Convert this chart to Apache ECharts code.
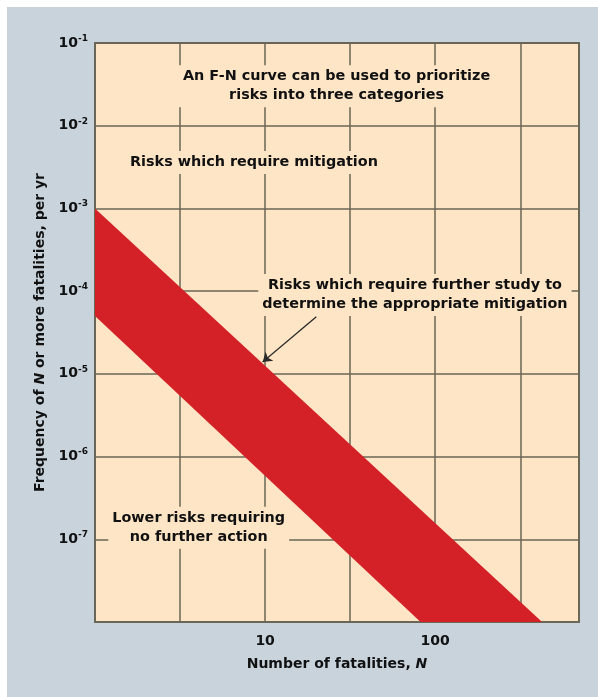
<!DOCTYPE html>
<html><head><meta charset="utf-8">
<script src="https://cdn.jsdelivr.net/npm/echarts@6/dist/echarts.min.js"></script>
<style>
html,body{margin:0;padding:0;background:#fff;}
#c{position:absolute;left:7px;top:7px;width:591px;height:690px;}
</style></head>
<body><div id="c"></div>
<script>
// Axis ranges
const xMin = 1, xMax = 700;
const yMin = 1e-8, yMax = 1e-1;
const xTickLabels = {10: '10', 100: '100'};

// Red band (F-N "further study" region): vertices
const bandN = [1, 425, 82, 1];
const bandF = [1e-3, 1e-8, 1e-8, 5e-5];

// Annotations
const noteText = [
  'An F-N curve can be used to prioritize\nrisks into three categories',
  'Risks which require mitigation',
  'Risks which require further study to\ndetermine the appropriate mitigation',
  'Lower risks requiring\nno further action'
];
const noteN = [26.3, 8.6, 76, 4.07];
const noteF = [3.0e-2, 3.6e-3, 9.0e-5, 1.38e-7];

// Arrow from note to band
const arrowFrom = [20, 4.9e-5];
const arrowTo = [9.67, 1.39e-5];

const BG = '#c9d3dc', PLOT = '#fde5c6', RED = '#d42128', GRID = '#6a6656';
const FONT = 'DejaVu Sans, sans-serif';
const TXT = '#111111';

const chart = echarts.init(document.getElementById('c'));
chart.setOption({
  backgroundColor: BG,
  animation: false,
  grid: {left: 88, top: 36, right: 19, bottom: 75, show: true, backgroundColor: PLOT,
         borderColor: '#6e6e5e', borderWidth: 2},
  xAxis: {
    type: 'log', logBase: 10, min: xMin, max: xMax, interval: 0.5,
    axisLine: {show: false}, axisTick: {show: false},
    splitLine: {show: true, lineStyle: {color: GRID, width: 1.5}},
    axisLabel: {margin: 12, color: TXT, fontFamily: FONT, fontWeight: 'bold', fontSize: 14,
      formatter: v => { const r = Math.round(v); return (Math.abs(v - r) < 1e-6 && xTickLabels[r]) ? xTickLabels[r] : ''; }},
    name: 'Number of fatalities, {i|N}', nameLocation: 'middle', nameGap: 35,
    nameTextStyle: {color: TXT, fontFamily: FONT, fontWeight: 'bold', fontSize: 14,
      rich: {i: {fontStyle: 'italic', fontWeight: 'bold', fontFamily: FONT, fontSize: 14, color: TXT}}}
  },
  yAxis: {
    type: 'log', logBase: 10, min: yMin, max: yMax, interval: 1,
    axisLine: {show: false}, axisTick: {show: false},
    splitLine: {show: true, lineStyle: {color: GRID, width: 1.5}},
    axisLabel: {margin: 7, color: TXT, fontFamily: FONT, fontWeight: 'bold', fontSize: 14,
      formatter: v => { const e = Math.round(Math.log10(v)); return e <= -8 ? '' : '10{s|' + e + '}'; },
      rich: {s: {fontSize: 9, fontWeight: 'bold', fontFamily: FONT, color: TXT, verticalAlign: 'top', padding: [0, 0, 9, 0]}}},
    name: 'Frequency of {i|N} or more fatalities, per yr', nameLocation: 'middle', nameGap: 39,
    nameTextStyle: {color: TXT, fontFamily: FONT, fontWeight: 'bold', fontSize: 14,
      rich: {i: {fontStyle: 'italic', fontWeight: 'bold', fontFamily: FONT, fontSize: 14, color: TXT}}}
  },
  series: [
    {
      type: 'custom', z: 2,
      data: [bandN.map((n, i) => [n, bandF[i]])],
      renderItem: (params, api) => {
        const pts = bandN.map((n, i) => api.coord([n, bandF[i]]));
        return {type: 'polygon', shape: {points: pts}, style: {fill: RED}};
      },
      clip: true, silent: true
    },
    {
      type: 'lines', coordinateSystem: 'cartesian2d', z: 4, silent: true,
      symbol: ['none', 'arrow'], symbolSize: 9,
      lineStyle: {color: '#2a2a2a', width: 1.3, opacity: 1},
      data: [{coords: [arrowFrom, arrowTo]}]
    },
    {
      type: 'scatter', z: 5, symbolSize: 0, silent: true,
      itemStyle: {opacity: 1},
      data: noteText.map((t, i) => ({name: t, value: [noteN[i], noteF[i]]})),
      label: {show: true, position: 'inside', formatter: p => p.name, color: TXT, opacity: 1,
        fontFamily: FONT, fontWeight: 'bold', fontSize: 14.4, lineHeight: 19, align: 'center',
        backgroundColor: PLOT, padding: [2, 4]}
    }
  ]
});
</script></body></html>
